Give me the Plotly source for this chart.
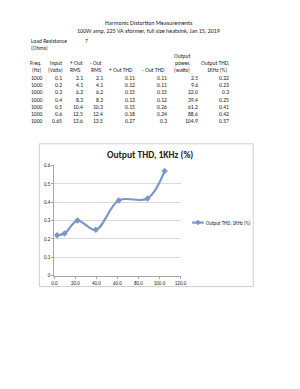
import plotly.graph_objects as go

W, H = 300, 389

# ---- data ----
freq = [1000, 1000, 1000, 1000, 1000, 1000, 1000]
input_v = ["0.1", "0.2", "0.3", "0.4", "0.5", "0.6", "0.65"]
pos_rms = ["2.1", "4.1", "6.2", "8.3", "10.4", "12.5", "13.6"]
neg_rms = ["2.1", "4.1", "6.2", "8.3", "10.3", "12.4", "13.5"]
pos_thd = ["0.11", "0.12", "0.15", "0.13", "0.15", "0.18", "0.27"]
neg_thd = ["0.11", "0.11", "0.15", "0.12", "0.26", "0.24", "0.3"]
power = [2.5, 9.6, 22.0, 39.4, 61.2, 88.6, 104.9]
thd = [0.22, 0.23, 0.3, 0.25, 0.41, 0.42, 0.57]
thd_labels = ["0.22", "0.23", "0.3", "0.25", "0.41", "0.42", "0.57"]

x_ticks = [0, 20, 40, 60, 80, 100, 120]
x_tick_text = ["0.0", "20.0", "40.0", "60.0", "80.0", "100.0", "120.0"]
y_ticks = [0, 0.1, 0.2, 0.3, 0.4, 0.5, 0.6]
y_tick_text = ["0", "0.1", "0.2", "0.3", "0.4", "0.5", "0.6"]
series_name = "Output THD, 1KHz (%)"

FONT = "Carlito, Calibri, Liberation Sans Narrow, Roboto, Liberation Sans, sans-serif"
TXT = "#222222"
LINE = "#7b96c8"


def px(x):
    return x / W


def py(y):
    return 1 - y / H


fig = go.Figure()
fig.add_trace(go.Scatter(
    x=power, y=thd, mode="lines+markers",
    line=dict(color=LINE, width=2.2, shape="spline", smoothing=1.0),
    marker=dict(symbol="diamond", size=5, color=LINE),
    name=series_name, showlegend=False,
))

ann = []


def t(x, y, s, anchor="center", size=5.6, bold=False):
    ann.append(dict(x=px(x), y=py(y), xref="paper", yref="paper", text=("<b>%s</b>" % s) if bold else s,
                    showarrow=False, xanchor=anchor, yanchor="middle",
                    font=dict(family=FONT, size=size, color=TXT)))


t(150, 20.5, "Harmonic Distortion Measurements", size=6)
t(150, 28.5, "100W amp, 225 VA xformer, full size heatsink, Jan 15, 2019", size=6)
t(27, 39, "Load Resistance", anchor="left")
t(82, 39, "7", anchor="left")
t(27, 46.5, "(Ohms)", anchor="left")
t(185, 54.5, "Output")
t(34.5, 61.5, "Freq.")
t(54.5, 61.5, "Input")
t(76, 61.5, "+ Out")
t(96, 61.5, "- Out")
t(185.5, 61.5, "power,")
t(219, 61.5, "Output THD,")
t(34.5, 69, "(Hz)")
t(54.5, 69, "(Volts)")
t(75, 69, "RMS")
t(96, 69, "RMS")
t(122, 69, "+ Out THD")
t(155, 69, "- Out THD")
t(185, 69, "(watts)")
t(221, 69, "1KHz (%)")

row_y0 = 76.7
row_dy = 7.33
cols = [
    (43, [str(f) for f in freq]),
    (63, input_v),
    (85, pos_rms),
    (105, neg_rms),
    (138, pos_thd),
    (171, neg_thd),
    (203, ["%.1f" % p for p in power]),
    (235, thd_labels),
]
for cx, vals in cols:
    for i, v in enumerate(vals):
        t(cx, row_y0 + i * row_dy, v, anchor="right")

# chart title
t(152, 154.5, "Output THD, 1KHz (%)", size=9.5, bold=True)
# legend text
t(207, 223, series_name, anchor="left", size=5)

shapes = [
    dict(type="rect", xref="paper", yref="paper",
         x0=px(37.5), x1=px(258), y0=py(288), y1=py(143),
         line=dict(color="#d0d0d0", width=1), fillcolor="rgba(0,0,0,0)", layer="below"),
    # legend key line
    dict(type="line", xref="paper", yref="paper",
         x0=px(195), x1=px(207), y0=py(223), y1=py(223),
         line=dict(color=LINE, width=2.2)),
    dict(type="path", xref="paper", yref="paper",
         path="M %f,%f L %f,%f L %f,%f L %f,%f Z" % (
             px(201), py(220.5), px(203.5), py(223), px(201), py(225.5), px(198.5), py(223)),
         line=dict(color=LINE, width=0.5), fillcolor=LINE),
]

fig.update_layout(
    width=W, height=H, margin=dict(l=0, r=0, t=0, b=0),
    paper_bgcolor="white", plot_bgcolor="white",
    showlegend=False,
    annotations=ann,
    shapes=shapes,
    xaxis=dict(domain=[px(53), px(183)], range=[0, 120], tickvals=x_ticks, ticktext=x_tick_text,
               showgrid=False, zeroline=False, showline=True, linecolor="#a6a6a6", linewidth=1,
               ticks="outside", ticklen=2, tickcolor="#a6a6a6",
               tickfont=dict(family=FONT, size=5, color=TXT)),
    yaxis=dict(domain=[py(277), py(165)], range=[0, 0.6], tickvals=y_ticks, ticktext=y_tick_text,
               showgrid=True, gridcolor="#d9d9d9", gridwidth=1, zeroline=False,
               showline=True, linecolor="#a6a6a6", linewidth=1,
               ticks="outside", ticklen=2, tickcolor="#a6a6a6",
               tickfont=dict(family=FONT, size=5, color=TXT)),
)

fig.write_html("out.html")
